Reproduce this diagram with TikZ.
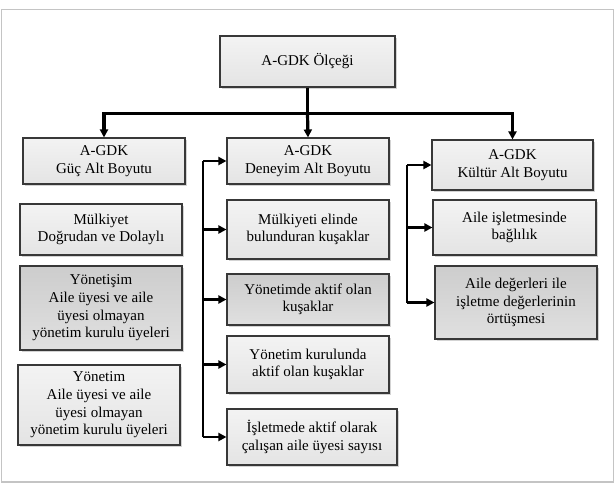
\documentclass[tikz,border=0pt]{standalone}
\usepackage{fontspec}
\setmainfont{Liberation Serif}
\usetikzlibrary{arrows.meta,shadows}
\definecolor{framegray}{HTML}{C4C4C4}
\definecolor{boxline}{HTML}{383838}
\definecolor{lighttop}{HTML}{F3F3F3}
\definecolor{lightbot}{HTML}{E4E4E4}
\definecolor{darktop}{HTML}{CDCDCD}
\definecolor{darkbot}{HTML}{E0E0E0}
\tikzset{
  box/.style={draw=boxline, line width=1.1pt, align=center, inner sep=0pt,
    font=\fontsize{15}{17.6}\selectfont,
    drop shadow={shadow xshift=1.6pt, shadow yshift=-1.6pt, opacity=0.35}},
  lightbox/.style={box, top color=lighttop, bottom color=lightbot},
  darkbox/.style={box, top color=darktop, bottom color=darkbot},
  bus/.style={line width=3.2pt},
  busarrow/.style={line width=3.2pt, -{Triangle[length=8pt,width=8pt]}},
  side/.style={line width=2.6pt},
  sidearrow/.style={line width=2.6pt, -{Triangle[length=8pt,width=8pt]}}
}
\begin{document}
\begin{tikzpicture}[x=1pt,y=-1pt]
        \useasboundingbox (0,0) rectangle (616,487);
        % frame
        \draw [framegray, line width=1.5pt] (1.5,9.5) rectangle (613.5,482);

        % boxes
        \node [lightbox, minimum width=175pt, minimum height=51pt] (olcek) at (307.5,61.5) {A-GDK Ölçeği};

        \node [lightbox, minimum width=162pt, minimum height=46pt] (guc) at (104,161) {A-GDK\\Güç Alt Boyutu};
        \node [lightbox, minimum width=162pt, minimum height=51pt] (mulkiyet) at (101,229.5) {Mülkiyet\\Doğrudan ve Dolaylı};
        \node [darkbox, minimum width=162pt, minimum height=84pt] (yonetisim) at (101,308) {Yönetişim\\Aile üyesi ve aile\\üyesi olmayan\\yönetim kurulu üyeleri};
        \node [lightbox, minimum width=162pt, minimum height=80pt] (yonetim) at (99,405) {Yönetim\\Aile üyesi ve aile\\üyesi olmayan\\yönetim kurulu üyeleri};

        \node [lightbox, minimum width=162pt, minimum height=46pt] (deneyim) at (308,161) {A-GDK\\Deneyim Alt Boyutu};
        \node [lightbox, minimum width=162pt, minimum height=59pt] (elinde) at (308,229.5) {Mülkiyeti elinde\\bulunduran kuşaklar};
        \node [darkbox, minimum width=162pt, minimum height=51pt] (aktif) at (308,299.5) {Yönetimde aktif olan\\kuşaklar};
        \node [lightbox, minimum width=162pt, minimum height=57pt] (kurul) at (308,364.5) {Yönetim kurulunda\\aktif olan kuşaklar};
        \node [lightbox, minimum width=170pt, minimum height=56pt] (calisan) at (312,437) {İşletmede aktif olarak\\çalışan aile üyesi sayısı};

        \node [lightbox, minimum width=161pt, minimum height=50pt] (kultur) at (512.5,165) {A-GDK\\Kültür Alt Boyutu};
        \node [lightbox, minimum width=163pt, minimum height=55pt] (baglilik) at (514.5,227.5) {Aile işletmesinde\\bağlılık};
        \node [darkbox, minimum width=162pt, minimum height=73pt] (ortusme) at (516,302.5) {Aile değerleri ile\\işletme değerlerinin\\örtüşmesi};

        % bus from top box
        \draw [bus] (olcek.south) -- ++(0,26) coordinate (hub);
        \draw [busarrow] (hub) -| (guc.north);\draw [busarrow] (hub) -| (kultur.north);\draw [busarrow] (hub) -- (deneyim.north);

        % deneyim side line
        \coordinate (dtop) at (203,161);\coordinate (dbot) at (203,437);
        \draw [side] (dtop) -- (dbot);
        \foreach \n in {deneyim,elinde,aktif,kurul,calisan}
            \draw [sidearrow] (dtop |- \n.west) -- (\n.west);

        % kultur side line
        \coordinate (ktop) at (407,165);\coordinate (kbot) at (407,302.5);
        \draw [side] (ktop) -- (kbot);
        \foreach \n in {kultur,baglilik,ortusme}
            \draw [sidearrow] (ktop |- \n.west) -- (\n.west);
    \end{tikzpicture}
\end{document}
